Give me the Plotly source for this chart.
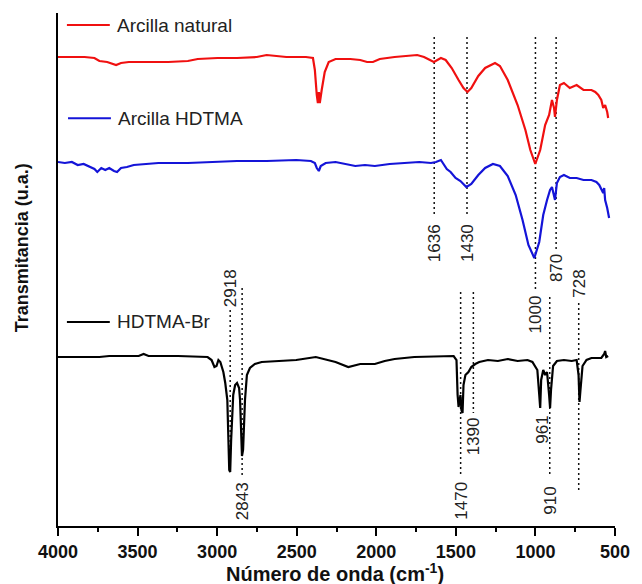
import plotly.graph_objects as go

# ---------------- data ----------------
# Arcilla natural (red) : wavenumber (cm-1) / transmittance (a.u., offset)
red_wn = [4000, 3926, 3833, 3771, 3740, 3691, 3660, 3635, 3604, 3555, 3431, 3307, 3184, 3122, 2998,
          2875, 2751, 2689, 2565, 2442, 2398, 2386, 2374, 2367, 2361, 2355, 2343, 2324, 2299, 2256,
          2163, 2101, 2058, 2021, 1978, 1885, 1743, 1700, 1638, 1594, 1564, 1526, 1483, 1452, 1427,
          1403, 1359, 1316, 1254, 1223, 1174, 1112, 1063, 1032, 1001, 970, 939, 914, 896, 883,
          877, 865, 846, 821, 784, 741, 698, 648, 624, 605, 586, 574, 562, 549, 543]
red_t = [469, 469, 469, 468, 465, 464, 462, 461, 463, 464, 464, 464, 465, 467, 468,
         468, 469, 471, 469, 469, 468, 456, 431, 423, 434, 423, 436, 454, 464, 467,
         467, 466, 464, 464, 467, 469, 471, 469, 464, 468, 466, 458, 446, 438, 434,
         438, 450, 458, 463, 460, 446, 421, 396, 376, 362, 376, 401, 411, 426, 418,
         409, 426, 441, 443, 438, 441, 436, 436, 434, 431, 426, 418, 421, 414, 408]

# Arcilla HDTMA (blue)
blue_wn = [4000, 3957, 3913, 3876, 3839, 3802, 3771, 3753, 3728, 3703, 3678, 3648, 3629, 3604, 3567,
           3524, 3462, 3369, 3184, 3029, 2875, 2689, 2503, 2411, 2386, 2374, 2361, 2349, 2318, 2256,
           2194, 2132, 2071, 2009, 1916, 1823, 1730, 1656, 1625, 1594, 1576, 1557, 1533, 1502, 1471,
           1434, 1403, 1359, 1316, 1267, 1223, 1174, 1124, 1081, 1044, 1007, 976, 951, 927, 908,
           896, 883, 877, 865, 846, 821, 784, 741, 698, 648, 617, 599, 586, 574, 568, 562, 549, 537]
blue_t = [364, 363, 364, 361, 362, 359, 357, 354, 358, 356, 358, 355, 354, 358, 359,
          361, 362, 363, 363, 364, 365, 365, 366, 365, 363, 358, 355, 360, 363, 364,
          362, 360, 361, 360, 362, 363, 364, 363, 364, 366, 362, 357, 354, 348, 345,
          339, 342, 351, 358, 362, 360, 350, 331, 306, 281, 268, 284, 311, 326, 336,
          339, 331, 326, 343, 349, 351, 348, 348, 346, 346, 344, 341, 336, 333, 338, 326, 318, 308]

# HDTMA-Br (black)
black_wn = [4000, 3740, 3678, 3493, 3462, 3431, 3246, 3060, 3035, 3017, 3004, 2992, 2980, 2961, 2949,
            2936, 2924, 2918, 2912, 2899, 2887, 2875, 2862, 2856, 2844, 2837, 2825, 2813, 2794, 2763,
            2720, 2627, 2503, 2380, 2256, 2176, 2101, 2009, 1947, 1885, 1761, 1514, 1496, 1489, 1483,
            1471, 1465, 1458, 1452, 1440, 1421, 1403, 1378, 1353, 1298, 1236, 1174, 1112, 1050, 1019,
            988, 976, 970, 964, 951, 939, 927, 914, 908, 902, 889, 865, 821, 772, 741,
            729, 723, 717, 704, 679, 648, 617, 586, 568, 562, 555, 543]
black_t = [169, 169, 170, 170, 172, 170, 170, 169, 166, 159, 160, 166, 164, 154, 143,
           126, 56, 54, 86, 131, 141, 143, 138, 126, 70, 76, 126, 151, 158, 162,
           164, 165, 166, 169, 164, 159, 162, 162, 165, 167, 169, 170, 166, 131, 119,
           131, 116, 113, 141, 151, 154, 159, 162, 164, 166, 165, 167, 165, 166, 164,
           156, 131, 118, 146, 156, 151, 154, 131, 118, 136, 160, 165, 166, 165, 166,
           151, 124, 136, 160, 166, 168, 168, 168, 172, 175, 169, 170]

series_names = ["Arcilla natural", "Arcilla HDTMA", "HDTMA-Br"]
series_colors = ["#f01010", "#1414d8", "#000000"]

# marked bands: wavenumber, dotted-line top/bottom, label centre
band_wn = [1636, 1430, 1000, 870, 2918, 2843, 1470, 1390, 910, 728]
band_top = [489, 489, 489, 489, 216, 238, 234, 234, 229, 223]
band_bot = [309, 309, 236, 276, 53, 51, 49, 113, 49, 33]
label_wn = [1636, 1430, 1000, 870, 2918, 2843, 1470, 1390, 961, 910, 728]
label_y = [283, 283, 212, 258, 238, 25, 25, 90, 96, 25, 242]

x_ticks = [4000, 3500, 3000, 2500, 2000, 1500, 1000, 500]
x_minor = [3750, 3250, 2750, 2250, 1750, 1250, 750]

# ---------------- figure ----------------
fig = go.Figure()

for wn, top, bot in zip(band_wn, band_top, band_bot):
    fig.add_trace(go.Scatter(x=[wn, wn], y=[top, bot], mode="lines",
                             line=dict(color="#111111", width=1.5, dash="2px,3px"),
                             showlegend=False, hoverinfo="skip"))

for wn, t, name, col in zip([red_wn, blue_wn, black_wn], [red_t, blue_t, black_t],
                            series_names, series_colors):
    fig.add_trace(go.Scatter(x=wn, y=t, mode="lines", name=name,
                             line=dict(color=col, width=2.2), showlegend=False))

for wn, y in zip(label_wn, label_y):
    fig.add_annotation(x=wn, y=y, xref="x", yref="y", text=str(wn), showarrow=False,
                       textangle=-90, xanchor="center", yanchor="middle",
                       font=dict(family="Liberation Sans", size=17, color="#222222"))

# in-plot legend: short line + label
leg_y = [0.9766, 0.795, 0.3977]
leg_x0 = [0.016, 0.018, 0.016]
for name, col, y, x0 in zip(series_names, series_colors, leg_y, leg_x0):
    fig.add_shape(type="line", xref="paper", yref="paper", x0=x0, x1=x0 + 0.077, y0=y, y1=y,
                  line=dict(color=col, width=2))
    fig.add_annotation(xref="paper", yref="paper", x=x0 + 0.086, y=y, text=name, showarrow=False,
                       xanchor="left", yanchor="middle",
                       font=dict(family="Liberation Sans", size=19, color="#222222"))

fig.add_annotation(xref="paper", yref="paper", x=0.498, y=-0.090,
                   text="Número de onda (cm<sup>-1</sup>)", showarrow=False,
                   xanchor="center", yanchor="middle",
                   font=dict(family="Liberation Sans", size=20, color="#111111", weight="bold"))
fig.add_annotation(xref="paper", yref="paper", x=-0.064, y=0.542,
                   text="Transmitancia (u.a.)", showarrow=False, textangle=-90,
                   xanchor="center", yanchor="middle",
                   font=dict(family="Liberation Sans", size=18, color="#111111", weight="bold"))

fig.update_layout(
    width=642, height=584,
    margin=dict(l=58, r=18, t=13, b=58),
    paper_bgcolor="white", plot_bgcolor="white",
    showlegend=False,
    xaxis=dict(range=[4000, 500], tickmode="array", tickvals=x_ticks,
               ticktext=[str(v) for v in x_ticks],
               ticks="outside", ticklen=8, tickwidth=2, tickcolor="black",
               minor=dict(tickmode="array", tickvals=x_minor,
                          ticks="outside", ticklen=4, tickwidth=2, tickcolor="black"),
               showline=True, linewidth=2, linecolor="black", showgrid=False, zeroline=False,
               tickfont=dict(family="Liberation Sans", size=18, color="#111111", weight="bold")),
    yaxis=dict(range=[0, 513], showline=True, linewidth=2, linecolor="black",
               showticklabels=False, ticks="", showgrid=False, zeroline=False),
)

fig.write_html("out.html")
